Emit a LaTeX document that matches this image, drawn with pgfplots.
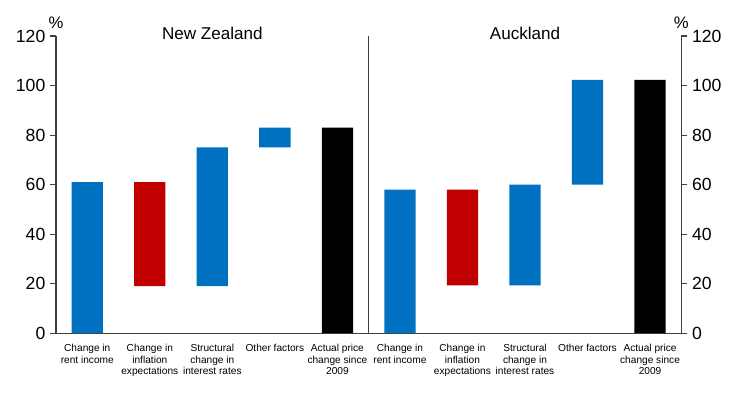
\documentclass[border=0pt]{standalone}
\usepackage{fontspec}
\setmainfont{Liberation Sans}
\usepackage{pgfplots}
\pgfplotsset{compat=1.18}
\definecolor{rbblue}{HTML}{0070C0}
\definecolor{rbred}{HTML}{C00000}
\definecolor{axgray}{HTML}{404040}
\begin{document}
\begin{tikzpicture}
\useasboundingbox (-42pt,-46.5pt) rectangle (512.75pt,249.75pt);
\begin{axis}[at={(0,0)}, anchor=south west, scale only axis,
  width=468.75pt, height=222.75pt,
  xmin=-0.5, xmax=9.5, ymin=0, ymax=120,
  ytick={0,20,...,120},
  ybar stacked, bar width=0.5,
  axis x line*=bottom, axis y line*=left,
  axis line style={axgray, line width=0.8pt},
  every tick/.style={axgray, line width=0.8pt},
  tick align=outside,
  major tick length=4.5pt,
  x tick style={draw=none},
  xtick={0,...,9},
  xticklabels={Change in\\rent income, Change in\\inflation\\expectations, Structural\\change in\\interest rates, Other factors, Actual price\\change since\\2009,
               Change in\\rent income, Change in\\inflation\\expectations, Structural\\change in\\interest rates, Other factors, Actual price\\change since\\2009},
  xticklabel style={font=\fontsize{7.6}{8.4}\selectfont, align=center, anchor=north, yshift=-0.5pt},
  yticklabel style={font=\fontsize{13.2}{15}\selectfont},
  /pgf/number format/assume math mode=true,
  clip=false,
]
\addplot[draw=none, fill=none] coordinates {(0,0) (1,19) (2,19) (3,75) (4,0) (5,0) (6,19.3) (7,19.3) (8,60) (9,0)};
\addplot[draw=none, fill=rbblue] coordinates {(0,61) (1,0) (2,56) (3,8) (4,0) (5,58) (6,0) (7,40.7) (8,42.3) (9,0)};
\addplot[draw=none, fill=rbred] coordinates {(0,0) (1,42) (2,0) (3,0) (4,0) (5,0) (6,38.7) (7,0) (8,0) (9,0)};
\addplot[draw=none, fill=black] coordinates {(0,0) (1,0) (2,0) (3,0) (4,83) (5,0) (6,0) (7,0) (8,0) (9,102.3)};
\draw[axgray, line width=0.8pt] (axis cs:4.5,0) -- (axis cs:4.5,120);
\node[font=\fontsize{12.8}{14}\selectfont] at ([yshift=2pt]axis cs:2,120) {New Zealand};
\node[font=\fontsize{12.8}{14}\selectfont] at ([yshift=2pt]axis cs:7,120) {Auckland};
\node[font=\fontsize{12.5}{14}\selectfont, anchor=base] at ([yshift=5.5pt]rel axis cs:0,1) {\%};
\node[font=\fontsize{12.5}{14}\selectfont, anchor=base] at ([yshift=5.5pt]rel axis cs:1,1) {\%};
\end{axis}
\begin{axis}[at={(0,0)}, anchor=south west, scale only axis,
  width=468.75pt, height=222.75pt,
  xmin=-0.5, xmax=9.5, ymin=0, ymax=120,
  ytick={0,20,...,120},
  axis x line=none, axis y line*=right,
  axis line style={axgray, line width=0.8pt},
  every tick/.style={axgray, line width=0.8pt},
  tick align=outside,
  major tick length=4.5pt,
  yticklabel style={font=\fontsize{13.2}{15}\selectfont},
  /pgf/number format/assume math mode=true,
]
\end{axis}
\end{tikzpicture}
\end{document}
